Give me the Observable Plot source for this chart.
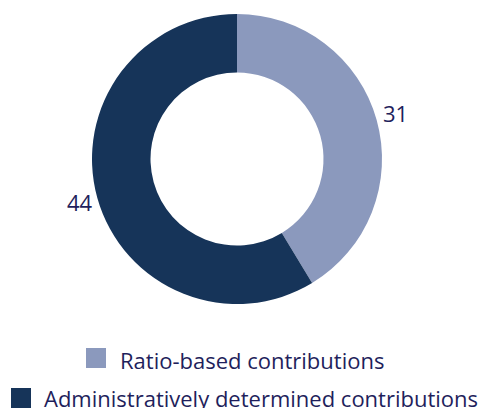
<!DOCTYPE html>
<html>
<head>
<meta charset="utf-8">
<script src="https://cdn.jsdelivr.net/npm/d3@7"></script>
<script src="https://cdn.jsdelivr.net/npm/@observablehq/plot@0.6"></script>
<style>
  html, body { margin: 0; padding: 0; background: #fff; }
  body { width: 478px; height: 408px; overflow: hidden; font-family: "Open Sans", sans-serif; color: #1f1f5c; }
  #legend { position: relative; height: 78px; }
  .row { position: absolute; display: flex; align-items: flex-start; font-size: 22px; white-space: nowrap; }
  .sw { width: 20px; height: 20px; flex: none; }
</style>
</head>
<body>
<div id="chart"></div>
<div id="legend"></div>
<script>
const categories = ["Ratio-based contributions", "Administratively determined contributions"];
const values = [31, 44];
const colors = ["#8b99bd", "#163459"];
const textColor = "#1f1f5c";

const data = categories.map((c, i) => ({category: c, value: values[i]}));
const color = Plot.scale({color: {type: "ordinal", domain: categories, range: colors}});

const outerR = 145, innerR = 86.5, labelR = 164;
const pie = d3.pie().sort(null).value(d => d.value);
const arcs = pie(data);
const labelArc = d3.arc().innerRadius(labelR).outerRadius(labelR);
const labels = arcs.map(a => {
  const [lx, ly] = labelArc.centroid(a);
  return {x: lx, y: -ly, text: String(a.data.value)};
});

function donut(index, scales) {
  const cx = scales.x(0), cy = scales.y(0);
  const k = scales.x(1) - scales.x(0);
  const arc = d3.arc().innerRadius(innerR * k).outerRadius(outerR * k);
  const g = d3.create("svg:g").attr("transform", `translate(${cx},${cy})`);
  g.selectAll("path").data(arcs).join("path")
    .attr("d", arc)
    .attr("fill", d => color.apply(d.data.category));
  return g.node();
}

const plot = Plot.plot({
  width: 478,
  height: 330,
  margin: 0,
  x: {domain: [-237, 241], axis: null},
  y: {domain: [-171, 159], axis: null},
  style: {fontFamily: "'Open Sans', sans-serif", background: "#fff"},
  marks: [
    donut,
    Plot.text(labels, {x: "x", y: "y", text: "text", fill: textColor, fontSize: 22, fontFamily: "Open Sans"})
  ]
});
document.getElementById("chart").appendChild(plot);

const legend = document.getElementById("legend");
const rowPos = [{left: 86, top: 19, swTop: -1, gap: 14}, {left: 11, top: 57, swTop: 1, gap: 13}];
categories.forEach((c, i) => {
  const row = document.createElement("div");
  row.className = "row";
  row.style.left = rowPos[i].left + "px";
  row.style.top = rowPos[i].top + "px";
  const sw = document.createElement("div");
  sw.className = "sw";
  sw.style.background = color.apply(c);
  sw.style.marginTop = rowPos[i].swTop + "px";
  sw.style.marginRight = rowPos[i].gap + "px";
  const t = document.createElement("span");
  t.textContent = c;
  t.style.lineHeight = "22px";
  row.appendChild(sw);
  row.appendChild(t);
  legend.appendChild(row);
});
</script>
</body>
</html>
